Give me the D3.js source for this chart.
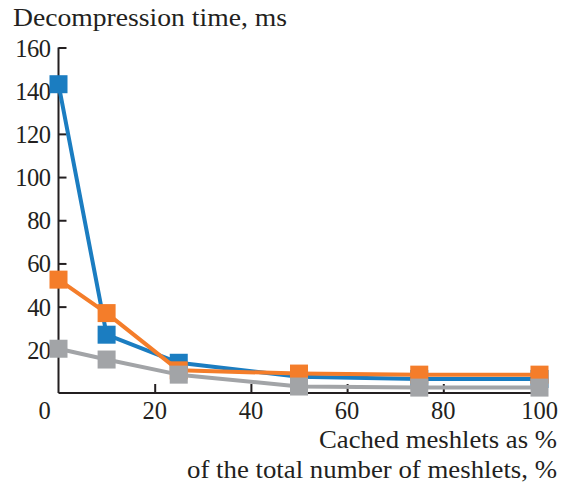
<!DOCTYPE html>
<html><head><meta charset="utf-8">
<script src="https://cdn.jsdelivr.net/npm/d3@7"></script>
<style>
html,body{margin:0;padding:0;background:#fff;}
text{font-family:"Liberation Serif","Times New Roman",serif;fill:#231f20;}
</style></head>
<body><svg id="chart" width="565" height="487"></svg>
<script>
const xValues = [0, 10, 25, 50, 75, 100];
const seriesBlue = [143, 27, 14, 7.5, 6.5, 6.5];
const seriesOrange = [52.5, 37, 10.5, 9, 8.5, 8.5];
const seriesGray = [20.5, 15.5, 8.5, 3, 2.5, 2.5];
const yTicks = [20, 40, 60, 80, 100, 120, 140, 160];
const xTicks = [0, 20, 40, 60, 80, 100];
const colors = ["#1b7dc1", "#f47d2a", "#a2a4a7"];

const svg = d3.select("#chart");
const x = d3.scaleLinear().domain([0, 100]).range([58.5, 539.5]);
const y = d3.scaleLinear().domain([0, 160]).range([393, 47.5]);

const fs = 24.5;
const tfs = 25.5;
// y axis
const yAxis = svg.append("g").attr("transform", `translate(${x(0)},0)`)
  .call(d3.axisRight(y).tickValues(yTicks).tickSize(8).tickFormat(""));
yAxis.select(".domain").attr("d", `M0,${y(0)}V${y(160)}`);
yAxis.selectAll("path,line").attr("stroke", "#231f20").attr("stroke-width", 2);
svg.append("g").selectAll("text").data(yTicks).join("text")
  .attr("x", 51).attr("y", d => y(d) + 9).attr("textLength", d => String(d).length * 11.9)
  .attr("text-anchor", "end").attr("font-size", fs).text(d => d);

// x axis
const xAxis = svg.append("g").attr("transform", `translate(0,${y(0)})`)
  .call(d3.axisTop(x).tickValues(xTicks.filter(d => d > 0)).tickSize(9).tickFormat(""));
xAxis.select(".domain").attr("d", `M${x(0)},0H${x(100) + 4}`);
xAxis.selectAll("path,line").attr("stroke", "#231f20").attr("stroke-width", 2);
svg.append("g").selectAll("text").data(xTicks).join("text")
  .attr("x", d => d === 0 ? x(d) - 14 : x(d)).attr("y", 419)
  .attr("text-anchor", "middle").attr("font-size", fs).text(d => d);

// titles
svg.append("text").attr("x", 13).attr("y", 26).attr("font-size", tfs)
  .attr("textLength", 274).attr("lengthAdjust", "spacingAndGlyphs").text("Decompression time, ms");
svg.append("text").attr("x", 557).attr("y", 448).attr("text-anchor", "end").attr("font-size", tfs)
  .attr("textLength", 238).attr("lengthAdjust", "spacingAndGlyphs").text("Cached meshlets as %");
svg.append("text").attr("x", 557).attr("y", 478).attr("text-anchor", "end").attr("font-size", tfs)
  .attr("textLength", 370).attr("lengthAdjust", "spacingAndGlyphs").text("of the total number of meshlets, %");

// series
const series = [seriesBlue, seriesOrange, seriesGray];
const line = d3.line().x(d => x(d[0])).y(d => y(d[1]));
const ms = 18;
series.forEach((vals, i) => {
  const pts = xValues.map((xv, j) => [xv, vals[j]]);
  const g = svg.append("g");
  g.append("path").datum(pts).attr("d", line).attr("fill", "none")
    .attr("stroke", colors[i]).attr("stroke-width", 4).attr("stroke-linejoin", "round");
  g.selectAll("rect").data(pts).join("rect")
    .attr("x", d => x(d[0]) - ms / 2).attr("y", d => y(d[1]) - ms / 2)
    .attr("width", ms).attr("height", ms).attr("fill", colors[i]);
});
</script></body></html>
